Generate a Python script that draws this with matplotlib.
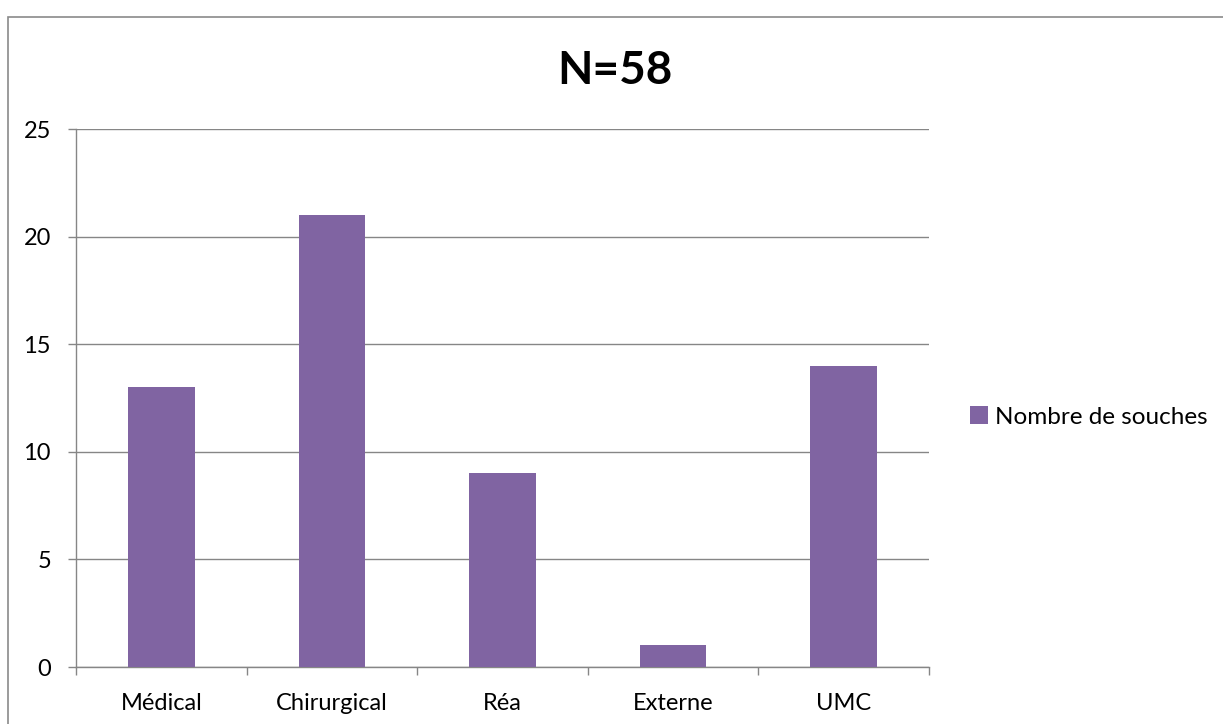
import matplotlib
matplotlib.use("Agg")
import matplotlib.pyplot as plt
from matplotlib.patches import Rectangle
import numpy as np

categories = ["Médical", "Chirurgical", "Réa", "Externe", "UMC"]
values = [13, 21, 9, 1, 14]
series_name = "Nombre de souches"
title = "N=58"
yticks = [0, 5, 10, 15, 20, 25]

bar_color = "#8064A2"
grid_color = "#868686"

plt.rcParams["font.family"] = ["Lato", "DejaVu Sans"]

W, H = 1223, 724
fig = plt.figure(figsize=(W / 100, H / 100), dpi=100)
fig.patch.set_facecolor("white")

# outer chart frame
fig.patches.append(Rectangle((8 / W, -0.1), 1.2, 1 - 17 / H + 0.1,
                             transform=fig.transFigure, fill=False,
                             edgecolor="#8a8a8a", linewidth=1.2))

ax = fig.add_axes([76 / W, 1 - 667 / H, (929 - 76) / W, (667 - 129) / H])
x = np.arange(len(categories))
bars = ax.bar(x, values, width=0.39, color=bar_color, zorder=3,
              label=series_name)

ax.set_xlim(-0.5, len(categories) - 0.5)
ax.set_ylim(0, 25)
ax.set_yticks(yticks)
ax.set_yticklabels([str(t) for t in yticks], fontsize=17)
ax.yaxis.grid(True, color=grid_color, linewidth=1.0, zorder=0)

ax.set_xticks(np.arange(-0.5, len(categories), 1.0))
ax.set_xticklabels([])
ax.set_xticks(x, minor=True)
ax.set_xticklabels(categories, minor=True, fontsize=17)
ax.tick_params(axis="x", which="minor", length=0, pad=19)
ax.tick_params(axis="x", which="major", length=6, color=grid_color, width=1.0)
ax.tick_params(axis="y", length=6, color=grid_color, width=1.0, pad=12)

for side in ["top", "right"]:
    ax.spines[side].set_visible(False)
for side in ["left", "bottom"]:
    ax.spines[side].set_color(grid_color)
    ax.spines[side].set_linewidth(1.0)

fig.text(615 / W, 1 - 71 / H, title, ha="center", va="center",
         fontsize=33, fontweight="bold")

ax.legend(loc="center left", bbox_to_anchor=(948 / W, 1 - 417 / H),
          bbox_transform=fig.transFigure, frameon=False, fontsize=17.5,
          handlelength=0.75, handleheight=0.75, handletextpad=0.3)

fig.savefig("out.png", dpi=100, facecolor="white")
